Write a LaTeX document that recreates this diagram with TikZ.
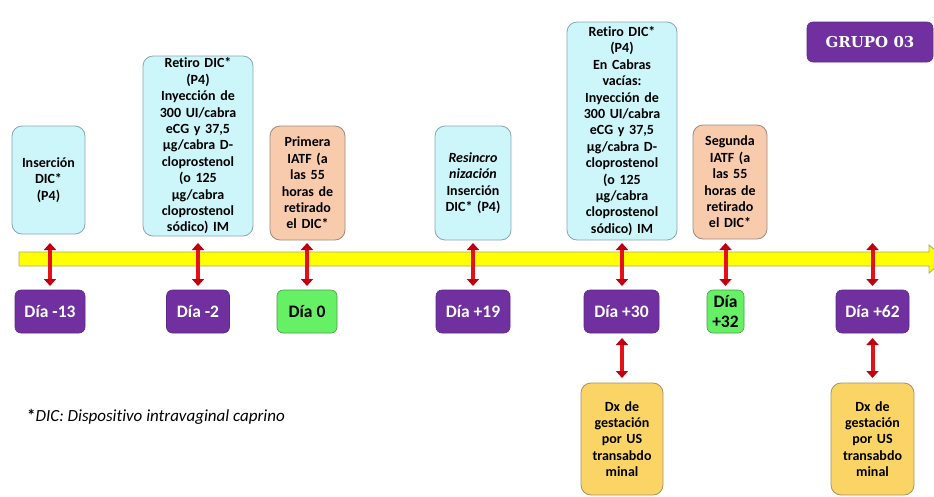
\documentclass[tikz,border=0pt]{standalone}
\usepackage{fontspec}
\setmainfont{Carlito}[Ligatures={NoCommon}]
\newfontfamily\grupofont{DejaVu Serif}
\usetikzlibrary{arrows.meta}
\definecolor{cyanfill}{HTML}{CCF6FA}
\definecolor{cyanline}{HTML}{8AA6AE}
\definecolor{salmon}{HTML}{F8CBAD}
\definecolor{salmonline}{HTML}{9A8A80}
\definecolor{purp}{HTML}{7030A0}
\definecolor{purpline}{HTML}{5E2888}
\definecolor{grn}{HTML}{66F066}
\definecolor{grnline}{HTML}{4A9A4A}
\definecolor{dxfill}{HTML}{FAD565}
\definecolor{dxline}{HTML}{A89060}
\definecolor{barfill}{HTML}{FFFF00}
\definecolor{barline}{HTML}{A8A870}
\definecolor{arr}{HTML}{E41218}
\definecolor{arrhead}{HTML}{C00010}
\tikzset{
  every node/.style={align=center, inner sep=1pt},
  infobox/.style={rounded corners=10pt, draw=cyanline, line width=0.8pt, fill=cyanfill,
    font=\fontsize{14}{16.4}\selectfont\bfseries},
  iatfbox/.style={infobox, draw=salmonline, fill=salmon},
  daybox/.style={rounded corners=6pt, draw=purpline, line width=0.6pt, fill=purp, text=white,
    minimum height=43pt, font=\fontsize{17.5}{19}\selectfont\bfseries},
  greenday/.style={daybox, draw=grnline, fill=grn, text=black},
  dxbox/.style={rounded corners=10pt, draw=dxline, line width=0.8pt, fill=dxfill,
    font=\fontsize{14}{16.4}\selectfont\bfseries},
  dblarrow/.style={draw=arr, line width=4pt,
    {Triangle[width=12pt,length=7pt,color=arrhead]}-{Triangle[width=12pt,length=7pt,color=arrhead]}},
}
\begin{document}
\begin{tikzpicture}[x=1pt,y=-1pt]
\useasboundingbox (0,0) rectangle (934,496);
% timeline bar
\fill[barfill, draw=barline, line width=0.8pt]
  (19,252) -- (929,252) -- (929,245) -- (946,259) -- (929,273) -- (929,266) -- (19,266) -- cycle;
% upper boxes
\node[infobox, minimum width=73pt, minimum height=108pt, text width=70pt] (b1) at (48.5,180) {Inserción\\DIC*\\(P4)};
\node[infobox, minimum width=110pt, minimum height=180pt, text width=106pt] (b2) at (198,146)
  {Retiro DIC*\\(P4)\\Inyección de\\300 UI/cabra\\eCG y 37,5\\µg/cabra D-\\cloprostenol\\(o 125\\µg/cabra\\cloprostenol\\sódico) IM};
\node[iatfbox, minimum width=75pt, minimum height=114pt, text width=72pt] (b3) at (307.5,183)
  {Primera\\IATF (a\\las 55\\horas de\\retirado\\el DIC*};
\node[infobox, minimum width=76pt, minimum height=114pt, text width=72pt] (b4) at (473,183)
  {\textit{Resincro}\\\textit{nización}\\Inserción\\DIC* (P4)};
\node[infobox, minimum width=110pt, minimum height=218pt, text width=106pt] (b5) at (622,131)
  {Retiro DIC*\\(P4)\\En Cabras\\vacías:\\Inyección de\\300 UI/cabra\\eCG y 37,5\\µg/cabra D-\\cloprostenol\\(o 125\\µg/cabra\\cloprostenol\\sódico) IM};
\node[iatfbox, minimum width=74pt, minimum height=114pt, text width=71pt] (b6) at (730,182)
  {Segunda\\IATF (a\\las 55\\horas de\\retirado\\el DIC*};
\node[rounded corners=6pt, fill=purp, draw=purpline, line width=0.6pt, text=white,
  minimum width=126pt, minimum height=40pt, font=\grupofont\fontsize{15}{17}\selectfont\bfseries] (g) at (870,42) {GRUPO 03};
% day boxes
\node[daybox, minimum width=70pt] (d1) at (50,311.5) {Día -13};
\node[daybox, minimum width=63pt] (d2) at (198,311.5) {Día -2};
\node[greenday, minimum width=60pt] (d3) at (307,311.5) {Día 0};
\node[daybox, minimum width=74pt] (d4) at (473,311.5) {Día +19};
\node[daybox, minimum width=75pt] (d5) at (621.5,311.5) {Día +30};
\node[greenday, minimum width=37pt, font=\fontsize{17.5}{20}\selectfont\bfseries] (d6) at (725.5,311.5) {Día\\+32};
\node[daybox, minimum width=73pt] (d7) at (872.5,311.5) {Día +62};
% diagnosis boxes
\node[dxbox, minimum width=82pt, minimum height=112pt, text width=78pt] (x1) at (622,439)
  {Dx de\\gestación\\por US\\transabdo\\minal};
\node[dxbox, minimum width=83pt, minimum height=112pt, text width=78pt] (x2) at (872.5,439)
  {Dx de\\gestación\\por US\\transabdo\\minal};
% arrow ends
\coordinate (top) at (0,243);
\coordinate (bot) at (0,286);
\coordinate (ltop) at (0,338);
\coordinate (lbot) at (0,378);
\draw[dblarrow] (d1.north |- top) -- (d1.north |- bot);
\draw[dblarrow] (d2.north |- top) -- (d2.north |- bot);
\draw[dblarrow] (d3.north |- top) -- (d3.north |- bot);
\draw[dblarrow] (d4.north |- top) -- (d4.north |- bot);
\draw[dblarrow] (b5.south |- top) -- (b5.south |- bot);
\draw[dblarrow] (d6.north |- top) -- (d6.north |- bot);
\draw[dblarrow] (d7.north |- top) -- (d7.north |- bot);
\draw[dblarrow] (x1.north |- ltop) -- (x1.north |- lbot);
\draw[dblarrow] (d7.south |- ltop) -- (d7.south |- lbot);
% footnote
\node[anchor=west, font=\fontsize{17}{19}\selectfont] (fn) at (26,417) {\textbf{*}\textit{DIC: Dispositivo intravaginal caprino}};
\end{tikzpicture}
\end{document}
